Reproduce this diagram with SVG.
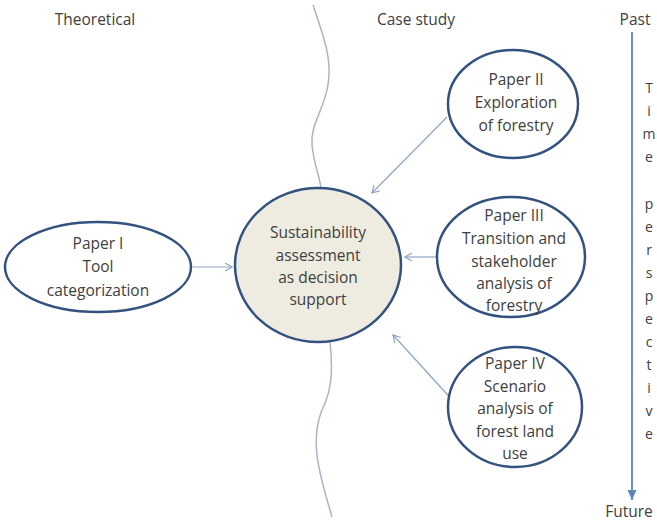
<svg xmlns="http://www.w3.org/2000/svg" width="657" height="521" viewBox="0 0 657 521">
<style>
text{font-family:"Open Sans","Liberation Sans",sans-serif;font-size:15.5px;fill:#404040;text-anchor:middle}
.node{fill:#fff;stroke:#34527f;stroke-width:2.5}
.core{fill:#eeece1;stroke:#34527f;stroke-width:2.5}
.conn{fill:none;stroke:#8ea4c4;stroke-width:1.2}
.wave{fill:none;stroke:#a9b3c9;stroke-width:1.5}
.time{fill:none;stroke:#5a86c0;stroke-width:1.8}
.vt{font-size:14px}
</style>
<defs>
<marker id="ah" markerWidth="10" markerHeight="10" refX="8" refY="5" orient="auto" markerUnits="userSpaceOnUse">
<path d="M1,1 L8,5 L1,9" fill="none" stroke="#8ea4c4" stroke-width="1.2"/>
</marker>
<marker id="th" markerWidth="12" markerHeight="12" refX="10" refY="6" orient="auto" markerUnits="userSpaceOnUse">
<path d="M0,1.5 L10,6 L0,10.5 Z" fill="#5a86c0"/>
</marker>
</defs>
<text x="95" y="25">Theoretical</text>
<text x="416" y="25">Case study</text>
<text x="635" y="25">Past</text>
<text x="629" y="517">Future</text>
<g id="timeline">
<line class="time" x1="632" y1="32" x2="632" y2="500" marker-end="url(#th)"/>
<g class="vt">
<text class="vt" x="649" y="93">T</text><text class="vt" x="649" y="116">i</text><text class="vt" x="649" y="139">m</text><text class="vt" x="649" y="162">e</text>
<text class="vt" x="649" y="209">p</text><text class="vt" x="649" y="232">e</text><text class="vt" x="649" y="255">r</text><text class="vt" x="649" y="278">s</text><text class="vt" x="649" y="301">p</text><text class="vt" x="649" y="324">e</text><text class="vt" x="649" y="347">c</text><text class="vt" x="649" y="370">t</text><text class="vt" x="649" y="393">i</text><text class="vt" x="649" y="416">v</text><text class="vt" x="649" y="439">e</text>
</g>
</g>
<g id="divider">
<path class="wave" d="M313,5 C325,40 332,60 328,85 C324,110 310,125 312,145 C314,165 320,178 321,188"/>
<path class="wave" d="M330,342 C333,370 332,390 322,410 C310,440 318,470 332,517"/>
</g>
<g id="connectors">
<line class="conn" x1="193" y1="267" x2="232" y2="267" marker-end="url(#ah)"/>
<line class="conn" x1="447" y1="117" x2="372" y2="193" marker-end="url(#ah)"/>
<line class="conn" x1="436" y1="257" x2="405" y2="257" marker-end="url(#ah)"/>
<line class="conn" x1="457" y1="405" x2="393" y2="335" marker-end="url(#ah)"/>
</g>
<g id="core">
<ellipse class="core" cx="318" cy="265" rx="83" ry="77"/>
<text x="318" y="238">Sustainability</text>
<text x="318" y="261">assessment</text>
<text x="318" y="283">as  decision</text>
<text x="318" y="305">support</text>
</g>
<g id="paper1">
<ellipse class="node" cx="98" cy="267" rx="93" ry="45"/>
<text x="98" y="249">Paper I</text>
<text x="98" y="272">Tool</text>
<text x="98" y="296">categorization</text>
</g>
<g id="paper2">
<ellipse class="node" cx="513" cy="104" rx="65" ry="54"/>
<text x="516" y="85">Paper II</text>
<text x="516" y="108">Exploration</text>
<text x="516" y="131">of forestry</text>
</g>
<g id="paper3">
<ellipse class="node" cx="511" cy="257" rx="74" ry="60"/>
<text x="514" y="221">Paper III</text>
<text x="514" y="244">Transition and</text>
<text x="514" y="267">stakeholder</text>
<text x="514" y="289">analysis of</text>
<text x="514" y="311">forestry</text>
</g>
<g id="paper4">
<ellipse class="node" cx="515" cy="407" rx="67" ry="60"/>
<text x="515" y="369">Paper IV</text>
<text x="515" y="392">Scenario</text>
<text x="515" y="414">analysis of</text>
<text x="515" y="437">forest land</text>
<text x="515" y="459">use</text>
</g>
</svg>
